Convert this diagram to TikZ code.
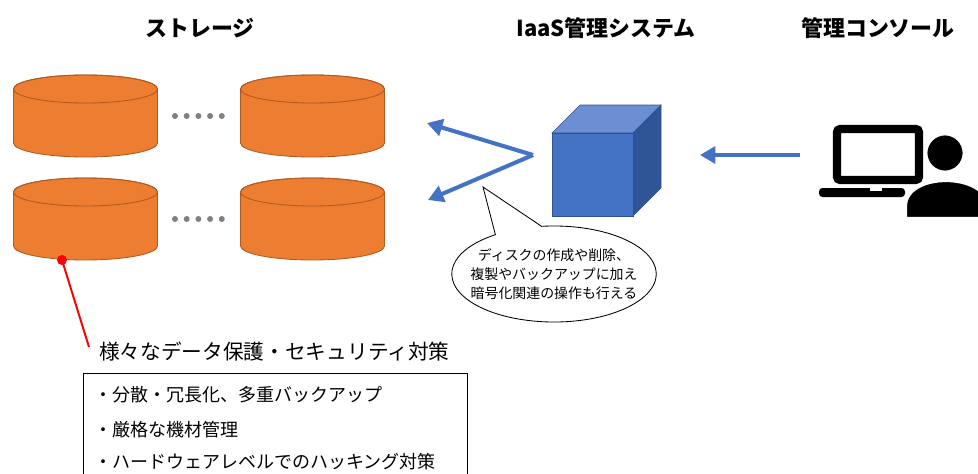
\documentclass[tikz,border=0pt]{standalone}
\usepackage{fontspec}
\setmainfont{Noto Sans CJK JP}
\usetikzlibrary{arrows.meta,shapes.callouts}
\definecolor{DiskClr}{RGB}{237,125,49}
\definecolor{DiskLineClr}{RGB}{174,90,33}
\definecolor{BlueClr}{RGB}{68,114,196}
\definecolor{TopClr}{RGB}{108,143,212}
\definecolor{SideClr}{RGB}{47,85,151}
\definecolor{EdgeClr}{RGB}{47,82,143}
\definecolor{DotClr}{RGB}{128,128,128}

\tikzset{
  disk/.pic={
    \fill[DiskClr,draw=DiskLineClr,line width=.6pt] (-72,0) -- (-72,54)
      arc[start angle=180,end angle=0,x radius=72,y radius=14] -- (72,0)
      arc[start angle=0,end angle=-180,x radius=72,y radius=14] -- cycle;
    \draw[DiskLineClr,line width=.6pt] (0,0) ellipse[x radius=72,y radius=14];
  },
  dots/.pic={
    \foreach \i in {0,...,4}
      \fill[DotClr] (\i*11.7,0) circle[radius=3];
  },
  title/.style={font=\fontsize{15.6}{18}\selectfont\bfseries},
  flow/.style={BlueClr,line width=2.9pt,-{Triangle[length=11pt,width=12pt]}},
  bubble/.style={ellipse callout,draw,fill=white,line width=.6pt,
    minimum width=5.1cm,minimum height=2.4cm,inner xsep=-8pt,inner ysep=0pt,
    callout pointer arc=28,align=center,font=\fontsize{9.9}{13.5}\selectfont},
  item/.style={anchor=west,inner sep=0pt,font=\fontsize{12.8}{15}\selectfont}
}

\begin{document}
\begin{tikzpicture}[x=0.025cm,y=-0.025cm]
\useasboundingbox (0,0) rectangle (978,473);

% headings
\node[title] (tStore) at (200,28) {ストレージ};
\node[title] (tIaas) at (606,28) {IaaS管理システム};
\node[title] (tCons) at (878,28) {管理コンソール};

% storage disks
\pic at (85.5,89) {disk};
\pic at (312.5,89) {disk};
\pic at (85.5,192) {disk};
\pic at (312.5,192) {disk};
\pic at (175,116) {dots};
\pic at (175,219) {dots};

% cube
\coordinate (cA) at (552,133);
\coordinate (cB) at (633,133);
\coordinate (cC) at (633,216);
\coordinate (cD) at (552,216);
\fill[TopClr,draw=EdgeClr,line width=.4pt] (cA) -- ++(28,-28) -- ++(81,0) -- (cB) -- cycle;
\fill[SideClr,draw=EdgeClr,line width=.4pt] (cB) -- ++(28,-28) -- ++(0,83) -- (cC) -- cycle;
\fill[BlueClr,draw=EdgeClr,line width=.4pt] (cA) rectangle (cC);

% arrows
\coordinate (fork) at (533,155);
\coordinate (toUp) at (427,123);
\coordinate (toDown) at (428,200);
\draw[flow] (fork) -- (toUp);
\draw[flow,line join=miter] (fork) -- (toDown);
\coordinate (pc) at (800,155);
\coordinate (sys) at (700,155);
\draw[flow] (pc) -- (sys);

% speech bubble
\coordinate (tail) at (483,187);
\node[bubble,callout absolute pointer={(tail)}] (note) at (554,274)
  {ディスクの作成や削除、\\複製やバックアップに加え\\暗号化関連の操作も行える};

% console
\draw[line width=6pt,rounded corners=2.5pt] (837,129) rectangle (919,180);
\fill[rounded corners=2.5pt] (819,188) rectangle (905,197);
\fill[white] (870,187) rectangle (882,191);
\fill[draw=white,line width=3pt] (905,219) -- (905,206)
  .. controls (905,189) and (925,180) .. (946,180)
  .. controls (967,180) and (988,189) .. (988,206) -- (988,219) -- cycle;
\fill[draw=white,line width=2pt] (945,153) circle[radius=19];

% protection notes
\coordinate (pin) at (62,260);
\coordinate (lead) at (89,347);
\draw[red,line width=1.4pt] (pin) -- (lead);
\fill[red] (pin) circle[radius=5];
\node[item,font=\fontsize{14.7}{17}\selectfont] (guard) at (99,352) {様々なデータ保護・セキュリティ対策};
\draw[line width=.6pt] (83,480) |- (467,373) -- (467,480);
\node[item] (it1) at (94,395) {・分散・冗長化、多重バックアップ};
\node[item] (it2) at (94,430) {・厳格な機材管理};
\node[item] (it3) at (94,462) {・ハードウェアレベルでのハッキング対策};

\end{tikzpicture}
\end{document}
